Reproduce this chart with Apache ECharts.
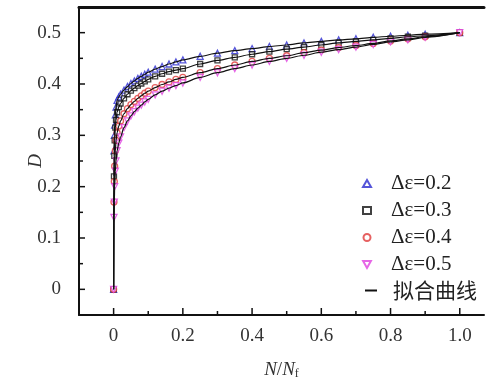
<!DOCTYPE html>
<html><head><meta charset="utf-8">
<script src="https://cdn.jsdelivr.net/npm/echarts@6/dist/echarts.min.js"></script>
<style>html,body{margin:0;padding:0;background:#fff}#c{width:486px;height:383px}</style>
</head><body><div id="c"></div>
<script>
const xs = [0, 0.001, 0.002, 0.003, 0.005, 0.007, 0.01, 0.015, 0.02, 0.03, 0.04, 0.05, 0.06, 0.07, 0.08, 0.09, 0.10, 0.12, 0.14, 0.16, 0.18, 0.20, 0.25, 0.30, 0.35, 0.40, 0.45, 0.50, 0.55, 0.60, 0.65, 0.70, 0.75, 0.80, 0.85, 0.90, 1.0];
const d02 = [0, 0.27, 0.30, 0.32, 0.34, 0.355, 0.368, 0.375, 0.38, 0.388, 0.395, 0.401, 0.406, 0.411, 0.415, 0.419, 0.423, 0.429, 0.434, 0.439, 0.443, 0.447, 0.454, 0.460, 0.465, 0.469, 0.473, 0.476, 0.480, 0.483, 0.486, 0.488, 0.491, 0.493, 0.495, 0.497, 0.500];
const d03 = [0, 0.22, 0.26, 0.29, 0.315, 0.33, 0.345, 0.355, 0.362, 0.372, 0.38, 0.387, 0.392, 0.397, 0.401, 0.405, 0.409, 0.415, 0.42, 0.424, 0.427, 0.430, 0.439, 0.446, 0.452, 0.458, 0.463, 0.468, 0.472, 0.476, 0.480, 0.483, 0.486, 0.489, 0.492, 0.494, 0.500];
const d04 = [0, 0.17, 0.21, 0.24, 0.27, 0.29, 0.305, 0.318, 0.328, 0.342, 0.352, 0.36, 0.366, 0.372, 0.377, 0.382, 0.386, 0.393, 0.399, 0.404, 0.409, 0.413, 0.422, 0.430, 0.437, 0.444, 0.450, 0.455, 0.461, 0.466, 0.471, 0.475, 0.479, 0.484, 0.488, 0.492, 0.500];
const d05 = [0, 0.14, 0.17, 0.20, 0.23, 0.25, 0.27, 0.285, 0.297, 0.315, 0.328, 0.338, 0.346, 0.353, 0.359, 0.365, 0.37, 0.379, 0.386, 0.392, 0.397, 0.402, 0.413, 0.422, 0.43, 0.437, 0.444, 0.45, 0.456, 0.462, 0.467, 0.472, 0.477, 0.482, 0.486, 0.491, 0.500];
const names = ['Δε=0.2', 'Δε=0.3', 'Δε=0.4', 'Δε=0.5'];
const fitName = '拟合曲线';
const xLabels = [0, 0.2, 0.4, 0.6, 0.8, 1.0];
const xMinor = [0.1, 0.3, 0.5, 0.7, 0.9];
const yLabels = [0, 0.1, 0.2, 0.3, 0.4, 0.5];
const yMinor = [0.05, 0.15, 0.25, 0.35, 0.45];

const X_MIN = -0.1, X_MAX = 1.07, Y_MIN = -0.05, Y_MAX = 0.55;
const GRID = { left: 79, right: 2, top: 7, bottom: 68 };
const serif = '"Liberation Serif", "Times New Roman", serif';
const pair = d => xs.map((x, i) => [x, d[i]]);
const sets = [d02, d03, d04, d05];
const colors = ['#2a2ad0', '#111111', '#e03a3a', '#e040e0'];
const symbols = ['triangle', 'rect', 'circle', 'path://M0,0 L10,0 L5,9 Z'];

const series = [];
sets.forEach((d, i) => {
  series.push({
    name: names[i], type: 'scatter', data: pair(d),
    symbol: symbols[i], symbolSize: i === 1 ? 5 : 6,
    itemStyle: { color: '#fff', borderColor: colors[i], borderWidth: 1.3 }, z: 3
  });
});
sets.forEach((d, i) => {
  series.push({
    name: fitName, type: 'line', data: pair(d),
    symbol: 'none', smooth: 0.3, smoothMonotone: 'x',
    lineStyle: { color: '#111', width: 1.2 }, itemStyle: { color: '#111' }, z: 4
  });
});

// inside ticks drawn as short line series through the axis scales
const W = 486, H = 383;
const perPxY = (Y_MAX - Y_MIN) / (H - GRID.top - GRID.bottom);
const perPxX = (X_MAX - X_MIN) / (W - GRID.left - GRID.right);
const tickSeries = (pts) => ({
  type: 'line', name: 'tick', data: pts, symbol: 'none', silent: true, clip: false,
  lineStyle: { color: '#111', width: 1.5 }, z: 6, animation: false
});
xLabels.forEach(v => series.push(tickSeries([[v, Y_MIN], [v, Y_MIN + 7 * perPxY]])));
xMinor.forEach(v => series.push(tickSeries([[v, Y_MIN], [v, Y_MIN + 4 * perPxY]])));
yLabels.forEach(v => series.push(tickSeries([[X_MIN, v], [X_MIN + 6 * perPxX, v]])));
yMinor.forEach(v => series.push(tickSeries([[X_MIN, v], [X_MIN + 4 * perPxX, v]])));

const chart = echarts.init(document.getElementById('c'), null, { renderer: 'canvas' });
chart.setOption({
  animation: false,
  tooltip: { show: false },
  grid: Object.assign({ containLabel: false, outerBoundsMode: 'none' }, GRID),
  legend: [{
    orient: 'vertical', left: 357, top: 168, itemWidth: 8, itemHeight: 7, itemGap: 6,
    data: names, selectedMode: false,
    textStyle: { fontFamily: serif, fontSize: 21, color: '#222', lineHeight: 21, padding: [0, 0, 0, 15] }
  }, {
    orient: 'vertical', left: 360, top: 275, itemWidth: 12, itemHeight: 2, icon: 'rect',
    data: [fitName], selectedMode: false,
    itemStyle: { color: '#111' },
    textStyle: { fontFamily: '"Noto Sans CJK SC", sans-serif', fontSize: 21, color: '#222', lineHeight: 21, padding: [0, 0, 0, 11] }
  }],
  xAxis: [{
    type: 'value', min: X_MIN, max: X_MAX, position: 'bottom',
    splitLine: { show: false },
    axisLine: { show: true, onZero: false, lineStyle: { color: '#111', width: 2 } },
    axisTick: { show: false },
    axisLabel: { customValues: xLabels, fontFamily: serif, fontSize: 19, color: '#333', margin: 12,
      formatter: v => v === 0 ? '0' : v.toFixed(1) },
    name: '{i|N}{n|/}{i|N}{s|f}', nameLocation: 'middle', nameGap: 45, nameMoveOverlap: false,
    nameTextStyle: { rich: {
      i: { fontFamily: serif, fontStyle: 'italic', fontSize: 19, color: '#333' },
      n: { fontFamily: serif, fontSize: 19, color: '#333' },
      s: { fontFamily: serif, fontSize: 12, color: '#333', verticalAlign: 'bottom', padding: [8, 0, 0, 0] }
    } }
  }, {
    type: 'value', min: X_MIN, max: X_MAX, position: 'top',
    axisLine: { show: true, onZero: false, lineStyle: { color: '#111', width: 3 } },
    splitLine: { show: false }, axisLabel: { show: false }, axisTick: { show: false }
  }],
  yAxis: [{
    type: 'value', min: Y_MIN, max: Y_MAX, position: 'left',
    splitLine: { show: false },
    axisLine: { show: true, onZero: false, lineStyle: { color: '#111', width: 2 } },
    axisTick: { show: false },
    axisLabel: { customValues: yLabels, fontFamily: serif, fontSize: 19, color: '#333', margin: 18,
      formatter: v => v === 0 ? '0' : v.toFixed(1) },
    name: 'D', nameLocation: 'middle', nameGap: 34, nameRotate: 90, nameMoveOverlap: false,
    nameTextStyle: { fontFamily: serif, fontStyle: 'italic', fontSize: 19, color: '#333' }
  }],
  series: series
});
</script></body></html>
